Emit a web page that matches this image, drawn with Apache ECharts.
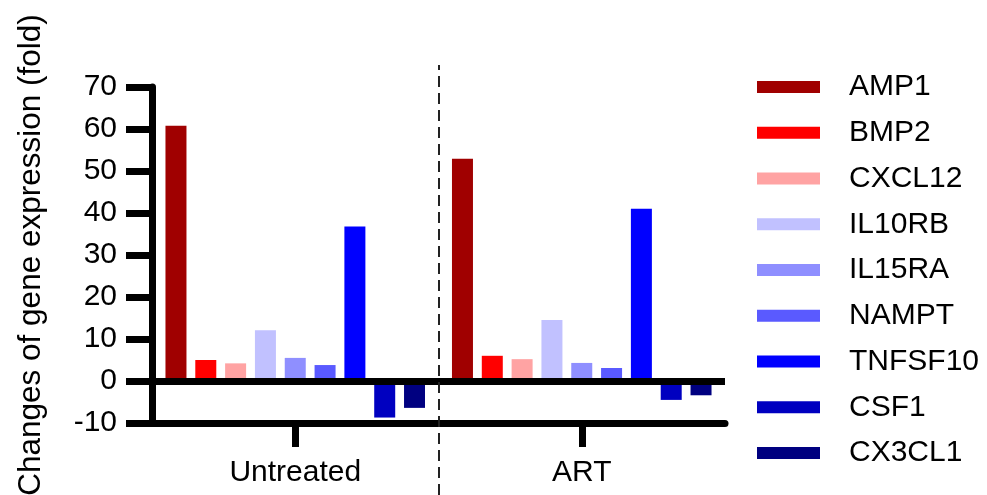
<!DOCTYPE html>
<html>
<head>
<meta charset="utf-8">
<script src="https://cdn.jsdelivr.net/npm/echarts@6/dist/echarts.min.js"></script>
<style>
html,body{margin:0;padding:0;background:#fff;}
#chart{width:987px;height:495px;}
</style>
</head>
<body>
<div id="chart"></div>
<script>
// groups on the x axis
var groups = ["Untreated", "ART"];
// genes (one series each)
var genes = ["AMP1", "BMP2", "CXCL12", "IL10RB", "IL15RA", "NAMPT", "TNFSF10", "CSF1", "CX3CL1"];
// fold change per gene
var untreated = [60.8, 5.0, 4.2, 12.1, 5.5, 3.8, 36.8, -8.7, -6.4];
var art = [52.9, 6.0, 5.2, 14.5, 4.3, 3.1, 41.0, -4.5, -3.4];
// y ticks
var yMin = -10, yMax = 70, yStep = 10;

var palette = ["#a00000", "#ff0000", "#ffa3a3", "#c1c1ff", "#8f8fff", "#5a5aff", "#0000ff", "#0000c0", "#000080"];
var font = "Liberation Sans, Arial, sans-serif";

var chart = echarts.init(document.getElementById('chart'));

var series = [];
for (var i = 0; i < genes.length; i++) {
	series.push({
		name: genes[i],
		type: 'bar',
		data: [untreated[i], art[i]],
		barWidth: 21,
		barGap: '42%',
		itemStyle: { color: palette[i] },
		silent: true
	});
}
// zero line
series[0].markLine = {
	silent: true,
	symbol: ['none', 'none'],
	label: { show: false },
	lineStyle: { color: '#000', width: 7, type: 'solid' },
	data: [{ yAxis: 0 }]
};
// dashed separator between the two groups (own grid, taller than the plot)
series.push({
	name: 'sep',
	type: 'line',
	xAxisIndex: 1,
	yAxisIndex: 1,
	data: [],
	markLine: {
		silent: true,
		symbol: ['none', 'none'],
		label: { show: false },
		lineStyle: { color: '#222', width: 2, type: [11, 6] },
		data: [{ xAxis: 1 }]
	}
});

var option = {
	animation: false,
	backgroundColor: '#fff',
	grid: [
		{ left: 152, right: 262, top: 87, bottom: 72, outerBoundsMode: 'none' },
		{ left: 152, right: 262, top: 65, bottom: 0, outerBoundsMode: 'none' }
	],
	legend: {
		data: genes,
		orient: 'vertical',
		left: 752,
		top: 67,
		icon: 'rect',
		itemWidth: 63,
		itemHeight: 12,
		itemGap: 15.75,
		textStyle: { fontFamily: font, fontSize: 30, color: '#000', lineHeight: 30, padding: [0, 0, 0, 24] }
	},
	xAxis: [{
		type: 'category',
		data: groups,
		position: 'bottom',
		axisLine: { onZero: false, lineStyle: { color: '#000', width: 7 } },
		axisTick: { show: true, alignWithLabel: true, interval: 0, length: 24, lineStyle: { color: '#000', width: 7 } },
		axisLabel: { fontFamily: font, fontSize: 30, color: '#000', margin: 35 },
		splitLine: { show: false }
	}, {
		type: 'value',
		gridIndex: 1,
		min: 0,
		max: 2,
		show: false
	}],
	yAxis: [{
		type: 'value',
		min: yMin,
		max: yMax,
		interval: yStep,
		name: 'Changes of gene expression (fold)',
		nameLocation: 'middle',
		nameGap: 105,
		nameTextStyle: { fontFamily: font, fontSize: 31.5, color: '#000' },
		axisLine: { show: true, lineStyle: { color: '#000', width: 7 } },
		axisTick: { show: true, length: 26, lineStyle: { color: '#000', width: 7 } },
		axisLabel: { fontFamily: font, fontSize: 30, color: '#000', margin: 35 },
		splitLine: { show: false }
	}, {
		type: 'value',
		gridIndex: 1,
		min: 0,
		max: 1,
		show: false
	}],
	series: series
};
chart.setOption(option);
</script>
</body>
</html>
